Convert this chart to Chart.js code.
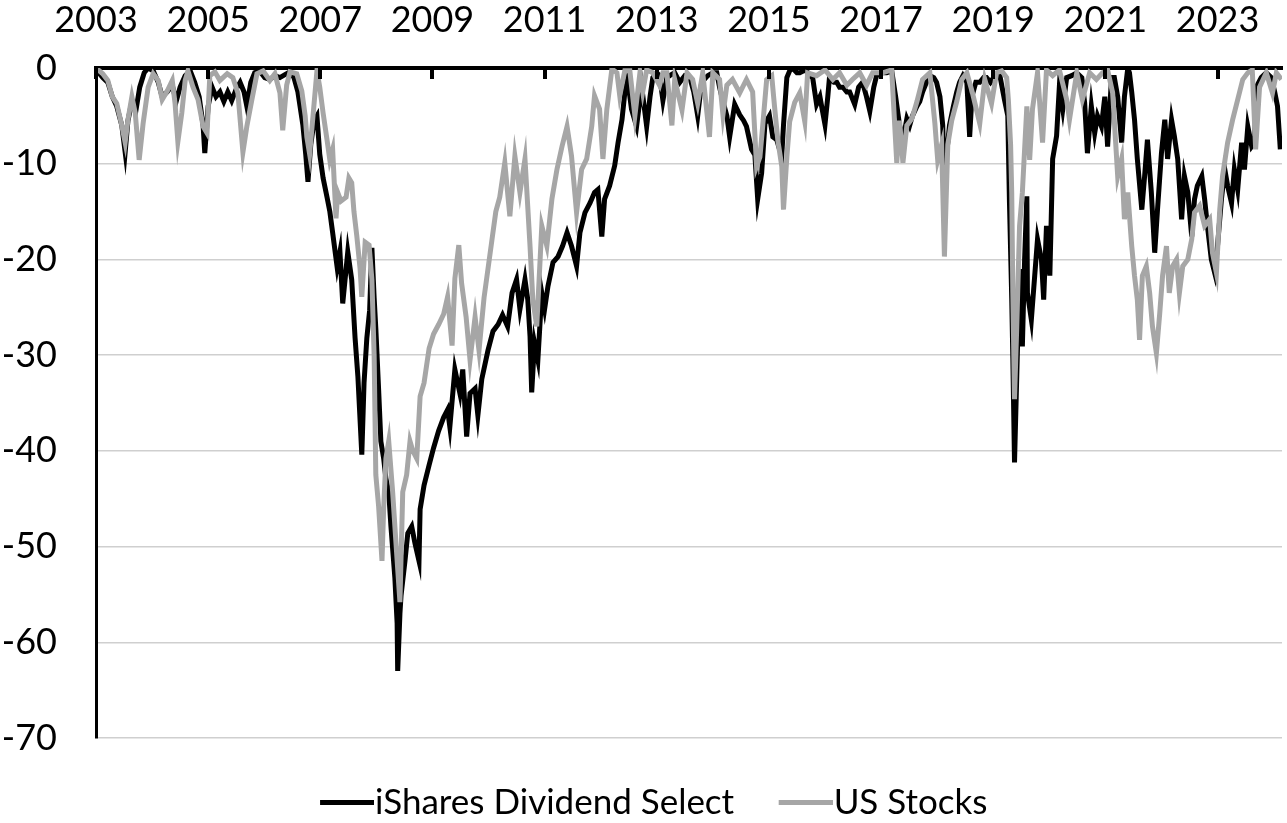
<!DOCTYPE html>
<html>
<head>
<meta charset="utf-8">
<script src="https://cdn.jsdelivr.net/npm/chart.js@4.4.1/dist/chart.umd.min.js"></script>
<style>
  html, body { margin: 0; padding: 0; background: #fff; }
  #wrap { width: 1287px; height: 823px; position: relative; }
</style>
</head>
<body>
<div id="wrap"><canvas id="c"></canvas></div>
<script>
// ---- data (drawdown, %) ----
const seriesNames = ['iShares Dividend Select', 'US Stocks'];
const seriesColors = ['#000000', '#a6a6a6'];
const xTickYears = [2003, 2005, 2007, 2009, 2011, 2013, 2015, 2017, 2019, 2021, 2023];
const xStart = 2003.85;   // first observation (Nov 2003)
const xEnd = 2025.0;

const dvyDates = [
  2003.85,2003.90,2003.97,2004.06,2004.14,2004.22,2004.31,2004.37,2004.42,2004.49,
  2004.56,2004.63,2004.71,2004.78,2004.87,2004.96,2005.03,2005.12,2005.21,2005.28,
  2005.35,2005.44,2005.53,2005.61,2005.69,2005.76,2005.79,2005.85,2005.92,2005.99,
  2006.06,2006.13,2006.20,2006.27,2006.35,2006.42,2006.49,2006.54,2006.61,2006.68,
  2006.77,2006.86,2006.95,2007.04,2007.13,2007.22,2007.31,2007.38,2007.45,2007.54,
  2007.59,2007.63,2007.68,2007.74,2007.79,2007.84,2007.90,2007.97,2008.02,2008.07,
  2008.15,2008.20,2008.25,2008.31,2008.34,2008.41,2008.47,2008.52,2008.59,2008.63,
  2008.68,2008.73,2008.77,2008.81,2008.84,2008.89,2008.93,2008.98,2009.02,2009.07,
  2009.11,2009.18,2009.22,2009.23,2009.27,2009.29,2009.36,2009.41,2009.48,2009.54,
  2009.61,2009.63,2009.70,2009.79,2009.87,2009.96,2010.05,2010.12,2010.16,2010.25,
  2010.34,2010.39,2010.46,2010.52,2010.61,2010.66,2010.73,2010.84,2010.93,2011.02,
  2011.10,2011.19,2011.27,2011.35,2011.41,2011.50,2011.55,2011.59,2011.62,2011.67,
  2011.73,2011.80,2011.85,2011.91,2012.00,2012.09,2012.17,2012.25,2012.33,2012.42,
  2012.48,2012.57,2012.66,2012.74,2012.80,2012.87,2012.92,2013.01,2013.10,2013.16,
  2013.23,2013.28,2013.33,2013.40,2013.49,2013.58,2013.67,2013.73,2013.78,2013.85,
  2013.90,2013.96,2014.03,2014.08,2014.17,2014.26,2014.35,2014.44,2014.51,2014.58,
  2014.65,2014.76,2014.85,2014.92,2014.97,2015.03,2015.10,2015.15,2015.24,2015.33,
  2015.40,2015.45,2015.54,2015.60,2015.65,2015.72,2015.78,2015.86,2015.92,2015.99,
  2016.04,2016.08,2016.11,2016.17,2016.22,2016.27,2016.35,2016.40,2016.47,2016.52,
  2016.58,2016.63,2016.70,2016.76,2016.79,2016.85,2016.90,2016.93,2017.01,2017.06,
  2017.11,2017.17,2017.24,2017.29,2017.38,2017.45,2017.52,2017.59,2017.65,2017.72,
  2017.77,2017.86,2017.95,2018.04,2018.11,2018.18,2018.24,2018.31,2018.36,2018.41,
  2018.49,2018.54,2018.59,2018.66,2018.72,2018.79,2018.84,2018.90,2018.95,2018.98,
  2019.02,2019.07,2019.14,2019.20,2019.25,2019.31,2019.38,2019.43,2019.47,2019.54,
  2019.61,2019.68,2019.73,2019.80,2019.88,2019.96,2020.05,2020.11,2020.14,2020.18,
  2020.20,2020.23,2020.27,2020.32,2020.36,2020.37,2020.41,2020.45,2020.46,2020.53,
  2020.59,2020.64,2020.71,2020.75,2020.80,2020.86,2020.91,2020.98,2021.03,2021.09,
  2021.16,2021.25,2021.34,2021.43,2021.48,2021.53,2021.60,2021.66,2021.71,2021.78,
  2021.84,2021.89,2021.96,2022.01,2022.07,2022.14,2022.19,2022.25,2022.28,2022.32,
  2022.37,2022.42,2022.50,2022.55,2022.60,2022.67,2022.73,2022.78,2022.85,2022.91,
  2022.96,2023.03,2023.08,2023.14,2023.21,2023.26,2023.32,2023.39,2023.44,2023.49,
  2023.57,2023.62,2023.67,2023.74,2023.80,2023.85,2023.92,2023.98,2024.03,2024.10,
  2024.15,2024.21,2024.28,2024.33,2024.39,2024.46,2024.51,2024.55,2024.63,2024.72,
  2024.81,2024.87,2024.92,2024.97
];
const dvyDrawdown = [
  0,-0.5,-1.0,-1.5,-3.0,-4.0,-6.0,-8.8,-5.5,-3.5,
  -4.5,-2.0,-0.5,0,-0.3,-1.5,-3.0,-2.5,-1.8,-3.5,
  -2.0,-0.8,-0.3,-1.5,-3.0,-6.0,-8.9,-4.0,-2.0,-3.0,
  -2.5,-3.5,-2.5,-3.4,-2.2,-1.5,-2.5,-4.0,-1.5,-0.5,
  -0.3,-1.0,-1.2,-0.8,-1.0,-0.7,-0.4,-1.0,-2.5,-6.0,
  -9.0,-11.9,-8.0,-5.5,-5.0,-9.0,-11.5,-13.5,-15.0,-17.2,
  -20.8,-19.2,-24.6,-21.0,-19.2,-22.1,-28.2,-32.2,-40.4,-32.9,
  -28.2,-25.3,-18.8,-24.0,-27.2,-33.6,-39.0,-40.8,-42.9,-44.3,
  -47.9,-53.3,-58.0,-63.0,-57.0,-55.1,-51.5,-48.6,-47.9,-49.7,
  -51.5,-46.1,-43.6,-41.5,-39.7,-37.9,-36.5,-35.7,-37.5,-31.5,
  -34.0,-31.5,-38.5,-34.0,-33.5,-36.3,-32.5,-29.5,-27.5,-26.8,
  -25.8,-27.0,-23.5,-22.1,-25.2,-22.1,-24.2,-28.0,-33.9,-28.7,
  -30.5,-23.5,-25.2,-22.8,-20.3,-19.7,-18.6,-17.2,-18.6,-20.7,
  -17.2,-15.1,-14.1,-13.0,-12.7,-17.6,-13.7,-12.3,-10.2,-7.8,
  -5.4,-2.6,-1.2,-4.3,-6.1,-1.9,-6.1,-3.0,-1.0,-0.5,
  -0.8,-3.4,-1.0,-0.8,-0.5,-1.5,-0.8,-1.0,-2.5,-5.0,
  -1.5,-0.8,-0.5,-0.5,-2.0,-3.5,-5.0,-7.2,-3.8,-4.9,
  -5.5,-6.1,-8.5,-9.1,-13.7,-11.0,-5.8,-5.0,-7.2,-7.5,
  -8.5,-9.1,-6.0,-1.0,-0.3,0,-0.5,-0.5,-0.3,-0.3,
  -0.8,-1.0,-3.8,-3.0,-4.0,-5.9,-3.0,-1.0,-1.5,-1.5,
  -2.0,-2.0,-2.5,-2.5,-3.8,-2.0,-1.5,-3.0,-4.5,-2.0,
  -0.8,-0.5,-0.5,-0.3,-3.0,-6.0,-7.5,-5.3,-6.0,-5.0,
  -4.0,-3.5,-2.5,-1.5,-0.8,-1.0,-1.5,-3.0,-6.0,-11.8,
  -9.0,-6.0,-4.0,-2.5,-1.5,-0.8,-1.5,-7.2,-3.0,-1.5,
  -1.5,-1.0,-1.0,-1.5,-0.8,-0.5,-3.3,-5.0,-14.1,-24.0,
  -30.3,-41.2,-32.2,-21.0,-27.0,-29.1,-20.0,-13.4,-23.5,-26.3,
  -21.7,-17.9,-20.0,-24.2,-16.5,-21.7,-9.5,-7.1,-1.9,-4.3,
  -1.0,-0.8,-0.5,-1.0,-3.6,-8.9,-4.0,-6.8,-5.0,-6.1,
  -3.0,-8.2,-1.0,-1.0,-3.0,-7.8,-3.0,0,-0.5,-2.5,
  -5.4,-9.5,-14.8,-11.3,-7.5,-13.0,-19.3,-14.8,-8.9,-5.4,
  -9.5,-5.4,-7.1,-9.5,-15.8,-11.3,-13.0,-17.6,-13.7,-12.3,
  -11.3,-13.7,-16.5,-20.0,-21.4,-18.6,-13.7,-10.6,-12.3,-14.1,
  -10.6,-12.7,-7.8,-10.6,-6.1,-8.2,-7.8,-1.9,-1.0,-0.5,
  -1.0,-2.5,-4.0,-8.5
];

const usDates = [
  2003.85,2003.89,2003.97,2004.06,2004.14,2004.22,2004.31,2004.37,2004.42,2004.49,
  2004.55,2004.62,2004.69,2004.78,2004.87,2004.96,2005.03,2005.12,2005.21,2005.26,
  2005.31,2005.38,2005.44,2005.49,2005.58,2005.67,2005.76,2005.83,2005.88,2005.97,
  2006.06,2006.19,2006.29,2006.38,2006.47,2006.54,2006.63,2006.72,2006.83,2006.95,
  2007.04,2007.13,2007.18,2007.25,2007.31,2007.43,2007.52,2007.58,2007.61,2007.66,
  2007.72,2007.79,2007.84,2007.90,2007.97,2008.02,2008.07,2008.13,2008.16,2008.22,
  2008.31,2008.36,2008.41,2008.45,2008.50,2008.56,2008.59,2008.65,2008.72,2008.77,
  2008.81,2008.84,2008.89,2008.95,2008.98,2009.02,2009.07,2009.14,2009.20,2009.27,
  2009.32,2009.39,2009.45,2009.50,2009.57,2009.63,2009.70,2009.79,2009.87,2009.96,
  2010.05,2010.12,2010.20,2010.25,2010.32,2010.37,2010.45,2010.52,2010.61,2010.68,
  2010.77,2010.84,2010.91,2010.98,2011.05,2011.14,2011.23,2011.32,2011.41,2011.50,
  2011.59,2011.64,2011.71,2011.80,2011.89,2011.98,2012.07,2012.16,2012.25,2012.33,
  2012.42,2012.51,2012.60,2012.69,2012.74,2012.83,2012.89,2012.96,2013.05,2013.14,
  2013.19,2013.28,2013.37,2013.46,2013.55,2013.60,2013.67,2013.78,2013.90,2013.96,
  2014.03,2014.12,2014.17,2014.30,2014.39,2014.49,2014.58,2014.67,2014.79,2014.85,
  2014.97,2015.03,2015.10,2015.20,2015.33,2015.45,2015.56,2015.63,2015.69,2015.74,
  2015.81,2015.90,2015.95,2016.01,2016.08,2016.11,2016.17,2016.22,2016.31,2016.40,
  2016.49,2016.54,2016.70,2016.85,2016.99,2017.11,2017.24,2017.34,2017.47,2017.59,
  2017.70,2017.88,2018.04,2018.13,2018.18,2018.24,2018.31,2018.40,2018.49,2018.59,
  2018.72,2018.81,2018.86,2018.93,2018.98,2019.04,2019.11,2019.20,2019.29,2019.38,
  2019.48,2019.61,2019.70,2019.82,2019.91,2020.00,2020.09,2020.12,2020.16,2020.18,
  2020.20,2020.23,2020.27,2020.32,2020.37,2020.45,2020.50,2020.55,2020.64,2020.73,
  2020.80,2020.91,2021.03,2021.16,2021.21,2021.34,2021.44,2021.57,2021.69,2021.80,
  2021.89,2021.98,2022.07,2022.14,2022.19,2022.25,2022.32,2022.37,2022.42,2022.46,
  2022.51,2022.58,2022.64,2022.69,2022.76,2022.82,2022.87,2022.94,2022.99,2023.05,
  2023.12,2023.17,2023.23,2023.32,2023.39,2023.44,2023.53,2023.62,2023.71,2023.76,
  2023.83,2023.89,2023.94,2024.03,2024.12,2024.21,2024.30,2024.39,2024.47,2024.53,
  2024.60,2024.72,2024.83,2024.90,2024.99
];
const usDrawdown = [
  0,-0.2,-0.6,-1.3,-3.0,-3.7,-6.0,-7.8,-5.4,-3.0,
  -4.7,-9.6,-5.8,-2.0,-0.6,-1.3,-3.3,-2.4,-1.3,-3.7,
  -7.7,-4.7,-1.3,-0.3,-2.0,-3.3,-6.1,-6.8,-0.8,-0.4,
  -1.3,-0.6,-1.0,-2.6,-8.8,-6.1,-3.3,-0.6,-0.3,-1.3,
  -0.6,-2.6,-6.5,-1.8,-0.4,-0.6,-2.4,-5.0,-7.2,-9.0,
  -5.0,-0.3,-2.0,-4.7,-7.5,-9.6,-8.5,-15.7,-13.0,-13.9,
  -13.5,-11.5,-12.0,-15.0,-17.5,-21.0,-23.9,-18.2,-18.5,-22.1,
  -30.0,-42.5,-45.8,-51.5,-46.0,-40.8,-39.0,-44.3,-49.7,-55.8,
  -44.3,-42.5,-39.0,-40.0,-40.8,-34.3,-32.9,-29.3,-27.8,-26.8,
  -25.7,-23.9,-29.0,-22.0,-18.5,-22.5,-26.0,-30.5,-26.0,-29.5,
  -24.0,-21.0,-18.0,-15.0,-13.5,-9.9,-15.5,-9.2,-13.0,-9.5,
  -18.6,-24.2,-27.0,-16.5,-18.6,-13.7,-10.6,-8.2,-6.1,-9.2,
  -15.1,-10.6,-9.5,-6.1,-2.9,-4.3,-9.5,-4.3,-0.1,-0.5,
  -2.9,-0.3,-0.3,-5.0,-0.5,-2.5,-0.2,-0.5,-1.8,-0.5,
  -0.5,-6.0,-1.2,-4.4,-0.5,-1.2,-3.7,-0.5,-7.2,-0.5,
  -1.2,-4.9,-1.8,-1.2,-2.6,-1.2,-2.5,-10.3,-9.3,-6.0,
  -1.2,-0.8,-4.0,-7.6,-10.3,-14.8,-9.3,-5.6,-3.6,-2.6,
  -5.6,-0.5,-0.8,-0.2,-1.2,-0.5,-1.8,-1.2,-0.5,-1.8,
  -0.5,-0.5,-0.2,-9.9,-5.5,-9.9,-6.0,-5.3,-3.5,-1.2,
  -0.5,-5.8,-9.6,-8.0,-19.7,-8.0,-5.5,-3.5,-1.2,-0.5,
  -2.6,-5.8,-1.2,-3.7,-0.5,-0.3,-1.0,-3.3,-8.0,-13.0,
  -23.5,-34.6,-27.0,-16.5,-13.0,-4.0,-9.6,-4.3,-0.5,-7.8,
  -0.2,-0.8,-0.2,-3.3,-5.4,-0.5,-3.3,-0.5,-1.2,-0.5,
  -0.2,-2.6,-11.3,-9.5,-15.8,-13.0,-18.6,-21.7,-24.2,-28.4,
  -21.7,-20.7,-23.5,-27.0,-29.8,-25.6,-21.7,-18.6,-23.5,-20.7,
  -20.0,-23.5,-20.7,-20.0,-17.9,-15.1,-14.4,-16.5,-15.8,-19.3,
  -21.4,-14.8,-11.3,-7.8,-5.4,-3.3,-1.2,-0.5,-0.2,-8.5,
  -2.0,-0.5,-2.6,-0.5,-1.2
];

// ---- build chart ----
function toPoints(xs, ys) { return xs.map((x, i) => ({ x: x, y: ys[i] })); }

const TICK_FONT = { family: 'Lato, "Noto Sans", sans-serif', size: 36 };
const LEGEND_FONT = { family: 'Lato, "Noto Sans", sans-serif', size: 35 };
const LEGEND_BOX = 40;      // layout width of the legend swatch slot

// legend swatch: a short thick line whose left end sits at the item start
function legendSwatch(color) {
  const lineLen = 54, half = LEGEND_BOX / 2;
  const w = Math.round(2 * (lineLen - half));
  const c = document.createElement('canvas');
  c.width = w; c.height = 5;
  const g = c.getContext('2d');
  g.fillStyle = color;
  g.fillRect(w / 2 - half, 0, lineLen, 5);
  return c;
}

const innerTicks = {
  id: 'innerTicks',
  afterLayout(chart) {
    if (chart.legend) { chart.legend.left += 14; chart.legend.right += 14; }
  },
  afterDraw(chart) {
    const xs = chart.scales.x, ctx = chart.ctx, top = chart.chartArea.top;
    ctx.save();
    ctx.strokeStyle = '#000';
    ctx.lineWidth = 4;
    xs.ticks.forEach(t => {
      const px = Math.round(xs.getPixelForValue(t.value));
      ctx.beginPath();
      ctx.moveTo(px, top);
      ctx.lineTo(px, top + 11);
      ctx.stroke();
    });
    ctx.restore();
  }
};

function draw() {
  new Chart(document.getElementById('c'), {
    type: 'line',
    data: {
      datasets: [
        {
          label: seriesNames[0],
          data: toPoints(dvyDates, dvyDrawdown),
          borderColor: seriesColors[0],
          backgroundColor: seriesColors[0],
          borderWidth: 5,
          pointRadius: 0,
          pointStyle: legendSwatch(seriesColors[0]),
          tension: 0,
          order: 2
        },
        {
          label: seriesNames[1],
          data: toPoints(usDates, usDrawdown),
          borderColor: seriesColors[1],
          backgroundColor: seriesColors[1],
          borderWidth: 5,
          pointRadius: 0,
          pointStyle: legendSwatch(seriesColors[1]),
          tension: 0,
          order: 1
        }
      ]
    },
    options: {
      responsive: true,
      maintainAspectRatio: false,
      animation: false,
      devicePixelRatio: 1,
      layout: { padding: { left: 0, right: 5, top: 0, bottom: 0 } },
      plugins: {
        tooltip: { enabled: false },
        legend: {
          position: 'bottom',
          maxHeight: 85,
          labels: {
            color: '#000',
            font: LEGEND_FONT,
            usePointStyle: true,
            boxWidth: LEGEND_BOX,
            boxHeight: 5,
            padding: 47,
            sort: (a, b) => a.datasetIndex - b.datasetIndex
          }
        }
      },
      scales: {
        x: {
          type: 'linear',
          position: 'top',
          min: xStart,
          max: xEnd,
          afterBuildTicks: (scale) => {
            scale.ticks = xTickYears.map(y => ({ value: xStart + (y - 2003) }));
          },
          afterFit: (scale) => { scale.height = 68; },
          ticks: {
            color: '#000',
            font: TICK_FONT,
            padding: 26,
            maxRotation: 0,
            autoSkip: false,
            callback: (v) => String(Math.round(v - (xStart - 2003)))
          },
          grid: { display: false, drawTicks: false },
          border: { display: true, color: '#000', width: 4 }
        },
        y: {
          min: -70,
          max: 0,
          afterFit: (scale) => { scale.width = 96; },
          ticks: {
            stepSize: 10,
            color: '#000',
            font: TICK_FONT,
            padding: 39
          },
          grid: { color: '#cfcfcf', lineWidth: 1.5, drawTicks: false },
          border: { display: true, color: '#000', width: 3 }
        }
      }
    },
    plugins: [innerTicks]
  });
}

document.fonts.load('36px Lato').then(draw, draw);
</script>
</body>
</html>
